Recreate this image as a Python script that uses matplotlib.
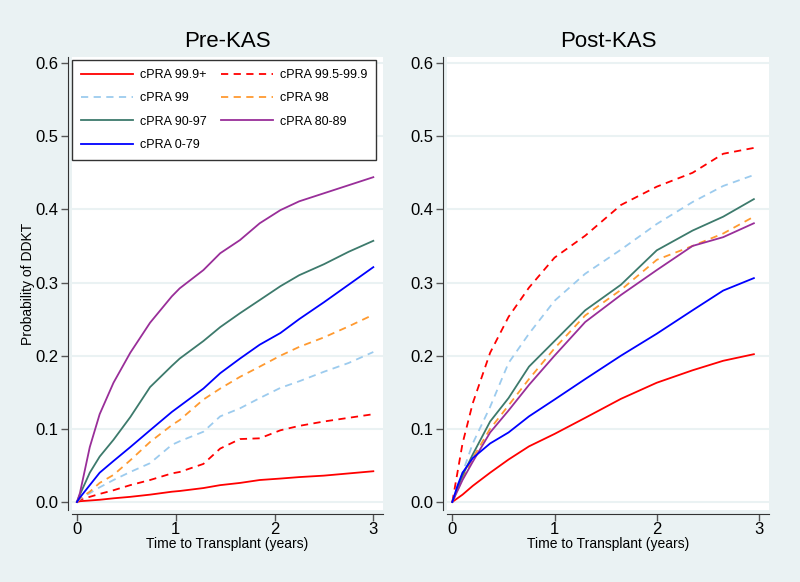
import matplotlib.pyplot as plt

plt.rcParams["font.family"] = ["Liberation Sans", "DejaVu Sans"]

BG = "#EAF2F3"

# ---- data (years, cumulative probability) ----
pre_t = [0, 0.03, 0.13, 0.23, 0.37, 0.54, 0.74, 0.96, 1.04, 1.28, 1.45, 1.65, 1.85, 2.06, 2.25, 2.5, 2.75, 3.0]
pre_999 = [0, 0.001, 0.002, 0.003, 0.005, 0.007, 0.010, 0.014, 0.015, 0.019, 0.023, 0.026, 0.030, 0.032, 0.034, 0.036, 0.039, 0.042]
pre_995 = [0, 0.003, 0.007, 0.011, 0.016, 0.023, 0.030, 0.039, 0.041, 0.052, 0.073, 0.086, 0.087, 0.098, 0.104, 0.110, 0.115, 0.120]
pre_99 = [0, 0.004, 0.012, 0.020, 0.030, 0.041, 0.053, 0.078, 0.083, 0.096, 0.117, 0.128, 0.142, 0.156, 0.165, 0.178, 0.190, 0.205]
pre_98 = [0, 0.005, 0.014, 0.026, 0.037, 0.057, 0.082, 0.105, 0.112, 0.140, 0.155, 0.171, 0.185, 0.200, 0.212, 0.225, 0.240, 0.256]
pre_90 = [0, 0.010, 0.040, 0.062, 0.085, 0.116, 0.157, 0.186, 0.196, 0.220, 0.239, 0.258, 0.276, 0.295, 0.310, 0.325, 0.342, 0.357]
pre_80 = [0, 0.012, 0.075, 0.120, 0.163, 0.204, 0.245, 0.281, 0.292, 0.317, 0.340, 0.358, 0.381, 0.399, 0.411, 0.422, 0.433, 0.444]
pre_0 = [0, 0.006, 0.023, 0.040, 0.056, 0.075, 0.098, 0.123, 0.131, 0.155, 0.176, 0.196, 0.215, 0.231, 0.250, 0.273, 0.297, 0.321]

post_t = [0, 0.05, 0.1, 0.2, 0.37, 0.55, 0.75, 1.0, 1.3, 1.65, 2.0, 2.35, 2.65, 2.95]
post_999 = [0, 0.005, 0.010, 0.022, 0.040, 0.058, 0.076, 0.093, 0.115, 0.141, 0.163, 0.180, 0.193, 0.202]
post_995 = [0, 0.040, 0.080, 0.135, 0.204, 0.253, 0.293, 0.334, 0.364, 0.406, 0.431, 0.450, 0.476, 0.484]
post_99 = [0, 0.020, 0.040, 0.080, 0.130, 0.190, 0.230, 0.275, 0.312, 0.345, 0.380, 0.410, 0.432, 0.447]
post_98 = [0, 0.016, 0.032, 0.060, 0.100, 0.132, 0.168, 0.210, 0.255, 0.290, 0.331, 0.350, 0.367, 0.390]
post_90 = [0, 0.018, 0.036, 0.065, 0.110, 0.142, 0.185, 0.220, 0.262, 0.297, 0.344, 0.371, 0.390, 0.414]
post_80 = [0, 0.015, 0.030, 0.055, 0.095, 0.125, 0.160, 0.200, 0.246, 0.283, 0.317, 0.350, 0.362, 0.381]
post_0 = [0, 0.022, 0.040, 0.060, 0.080, 0.095, 0.117, 0.140, 0.168, 0.200, 0.230, 0.262, 0.289, 0.306]

labels = ["cPRA 99.9+", "cPRA 99.5-99.9", "cPRA 99", "cPRA 98",
          "cPRA 90-97", "cPRA 80-89", "cPRA 0-79"]
colors = ["#FF0000", "#FF0000", "#9CCBEE", "#FF9A30", "#3D7A6C", "#992E99", "#0000FF"]
styles = ["-", (0, (4, 3)), (0, (4, 3)), (0, (4, 3)), "-", "-", "-"]

pre = [pre_999, pre_995, pre_99, pre_98, pre_90, pre_80, pre_0]
post = [post_999, post_995, post_99, post_98, post_90, post_80, post_0]

fig = plt.figure(figsize=(8, 5.82), dpi=100, facecolor=BG)
ax1 = fig.add_axes([0.09, 0.1237, 0.389, 0.778])
ax2 = fig.add_axes([0.559, 0.1237, 0.4025, 0.778])

for ax, t, series, title in [(ax1, pre_t, pre, "Pre-KAS"), (ax2, post_t, post, "Post-KAS")]:
    ax.set_facecolor("white")
    for y in [0.0, 0.1, 0.2, 0.3, 0.4, 0.5, 0.6]:
        ax.axhline(y, color=BG, lw=1.5, zorder=0)
    for vals, c, ls, lab in zip(series, colors, styles, labels):
        ax.plot(t, vals, color=c, linestyle=ls, lw=1.3, label=lab)
    ax.set_xlim(-0.05, 3.1)
    ax.set_ylim(-0.011, 0.608)
    ax.set_xticks([0, 1, 2, 3])
    ax.set_yticks([0.0, 0.1, 0.2, 0.3, 0.4, 0.5, 0.6])
    ax.set_yticklabels(["0.0", "0.1", "0.2", "0.3", "0.4", "0.5", "0.6"],
                       rotation=90, va="center")
    ax.tick_params(labelsize=12, length=5, width=1, color="#555555", pad=2)
    ax.tick_params(axis="x", pad=0.5)
    ax.spines["top"].set_visible(False)
    ax.spines["right"].set_visible(False)
    for s in ["left", "bottom"]:
        ax.spines[s].set_position(("outward", 3))
        ax.spines[s].set_color("#333333")
    ax.set_title(title, fontsize=16, pad=7)
    ax.set_xlabel("Time to Transplant (years)", fontsize=10, labelpad=0)

ax1.set_ylabel("Probability of DDKT", fontsize=10)
ax1.yaxis.set_label_coords(-0.12, 0.5)

# legend filled row by row, as in the reference
h, l = ax1.get_legend_handles_labels()
order = [0, 2, 4, 6, 1, 3, 5]
leg = ax1.legend([h[i] for i in order], [l[i] for i in order], ncol=2,
                 loc="upper left", bbox_to_anchor=(0.0, 0.993),
                 borderaxespad=0, borderpad=0.7, fontsize=9, handlelength=4.15,
                 handletextpad=0.6, labelspacing=0.9, columnspacing=1.1,
                 fancybox=False, framealpha=1, edgecolor="#333333")
leg.get_frame().set_linewidth(1)

fig.savefig("out.png", dpi=100, facecolor=BG)
